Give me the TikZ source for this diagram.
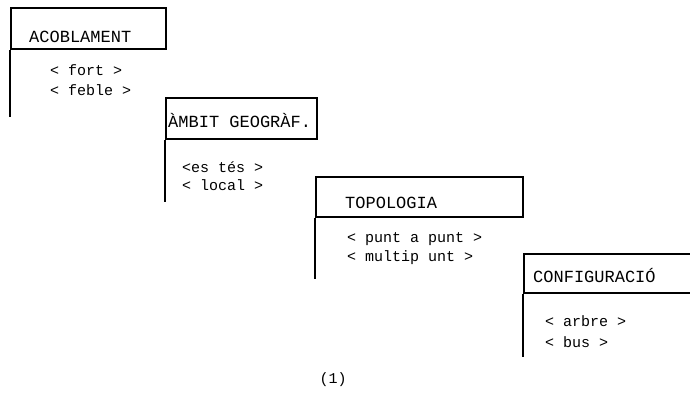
\documentclass[tikz,border=0pt]{standalone}
\usepackage{fontspec}
\setmonofont{Liberation Mono}
\usetikzlibrary{positioning}
\begin{document}
\begin{tikzpicture}[x=1pt, y=-1pt, every node/.style={inner sep=0pt},
          head/.style={draw, anchor=north west, line width=1.8pt},
          htxt/.style={anchor=base west, font=\ttfamily\fontsize{17}{20}\selectfont},
          opt/.style={anchor=base west, font=\ttfamily\fontsize{15}{18}\selectfont},
          rail/.style={line width=1.8pt}]
        \useasboundingbox (0,0) rectangle (690,392);
        \clip (0,0) rectangle (690,392);
        % acoblament
        \node[head, minimum width=155pt, minimum height=41pt] (acob) at (10,7) {};
        \node[htxt] (acobt) at (29,42) {ACOBLAMENT};
        \node[opt] (fort) at (50,75) {< fort >};
        \node[opt] (feble) at (50,95) {< feble >};
        \coordinate (acobe) at (10,117);
        \draw[rail] (acob.south west) -- (acobe);
        % ambit
        \node[head, minimum width=151pt, minimum height=41pt] (ambit) at (165,97) {};
        \node[htxt] (ambitt) at (168,127) {ÀMBIT GEOGRÀF.};
        \node[opt] (estes) at (182,172) {<es tés >};
        \node[opt] (local) at (182,190) {< local >};
        \coordinate (ambite) at (165,202);
        \draw[rail] (ambit.south west) -- (ambite);
        % topologia
        \node[head, minimum width=207pt, minimum height=40pt] (topo) at (315,176) {};
        \node[htxt] (topot) at (345,208) {TOPOLOGIA};
        \node[opt] (punt) at (347,242) {< punt a punt >};
        \node[opt] (multi) at (347,261) {< multip unt >};
        \coordinate (topoe) at (315,279);
        \draw[rail] (topo.south west) -- (topoe);
        % configuracio
        \node[head, minimum width=175pt, minimum height=39pt] (conf) at (523,253) {};
        \node[htxt] (conft) at (533,282) {CONFIGURACIÓ};
        \node[opt] (arbre) at (545,326) {< arbre >};
        \node[opt] (bus) at (545,347) {< bus >};
        \coordinate (confe) at (523,357);
        \draw[rail] (conf.south west) -- (confe);
        \node[opt, anchor=base] (num) at (333,383) {(1)};
      \end{tikzpicture}
\end{document}
